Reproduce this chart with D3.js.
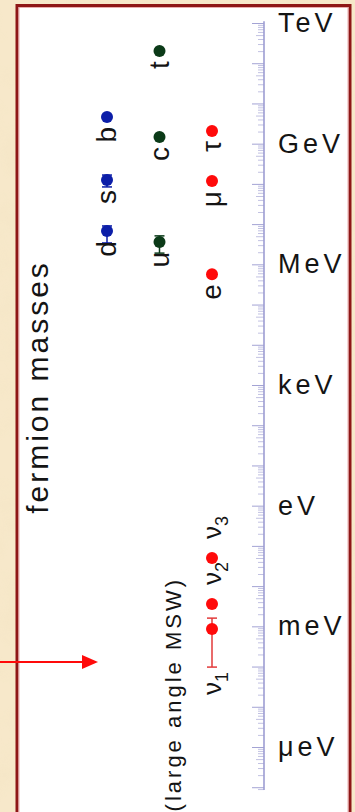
<!DOCTYPE html>
<html>
<head>
<meta charset="utf-8">
<script src="https://cdn.jsdelivr.net/npm/d3@7"></script>
<style>
  html, body { margin: 0; padding: 0; background: #f6e5c5; }
  svg { display: block; }
  text { font-family: 'Liberation Sans', Arial, sans-serif; fill: #141414; }
</style>
</head>
<body>
<svg id="chart" width="355" height="812"></svg>
<script>
// fermion masses in eV
const names = ['d', 's', 'b', 'u', 'c', 't', 'e', 'μ', 'τ', 'ν', 'ν', 'ν']
const subscripts = ['', '', '', '', '', '', '', '', '', '1', '2', '3']
const families = ['down', 'down', 'down', 'up', 'up', 'up', 'lepton', 'lepton', 'lepton', 'lepton', 'lepton', 'lepton']
const masses = [6.7e6, 1.25e8, 4.6e9, 3.6e6, 1.47e9, 2.0e11, 5.7e5, 1.18e8, 2.07e9, 8.6e-4, 3.6e-3, 0.05]
const errLow = [3.4e6, 8.4e7, null, 1.9e6, null, null, null, null, null, 9.7e-5, null, null]
const errHigh = [9.0e6, 1.66e8, null, 5.1e6, null, null, null, null, null, 1.6e-3, null, null]

const unitLabels = ['TeV', 'GeV', 'MeV', 'keV', 'eV', 'meV', 'μeV']
const unitValues = [1e12, 1e9, 1e6, 1e3, 1, 1e-3, 1e-6]

const familyColors = { down: '#0c1ea8', up: '#0b3a18', lepton: '#ff0a0a' }

const width = 355
const height = 812
const axisX = 264
const axisMin = 8.5e-8
const axisMax = 1.1e12

const svg = d3.select('#chart')

// parchment background
const defs = svg.append('defs')
const paper = defs.append('filter').attr('id', 'paper')
  .attr('x', 0).attr('y', 0).attr('width', '100%').attr('height', '100%')
paper.append('feTurbulence')
  .attr('type', 'fractalNoise')
  .attr('baseFrequency', 0.025)
  .attr('numOctaves', 3)
  .attr('seed', 4)
paper.append('feColorMatrix')
  .attr('type', 'matrix')
  .attr('values', '0 0 0 0 0.86  0 0 0 0 0.74  0 0 0 0 0.5  0 0 0 1.1 -0.45')

svg.append('rect')
  .attr('width', width)
  .attr('height', height)
  .attr('fill', '#f7e8ca')
svg.append('rect')
  .attr('width', width)
  .attr('height', height)
  .attr('filter', 'url(#paper)')
  .attr('opacity', 0.45)

// white panel
svg.append('rect')
  .attr('x', 17)
  .attr('y', 5.5)
  .attr('width', 333)
  .attr('height', height + 20)
  .attr('fill', '#fff')
  .attr('stroke', '#8e1616')
  .attr('stroke-width', 3)
svg.append('rect')
  .attr('x', 19)
  .attr('y', 7.5)
  .attr('width', 329)
  .attr('height', height + 20)
  .attr('fill', 'none')
  .attr('stroke', '#e59a9a')
  .attr('stroke-width', 0.8)

const y = d3.scaleLog().domain([1e-6, 1e12]).range([747, 23])
const x = d3.scalePoint().domain(['down', 'up', 'lepton']).range([107, 212])

// axis: decades long, 2..9 short
const tickValues = []
for (let k = -8; k <= 12; k++) {
  for (let m = 1; m < 10; m++) {
    const v = m * Math.pow(10, k)
    if (v >= axisMin && v <= axisMax) tickValues.push(v)
  }
}
const mantissa = (v) => Math.round(v / Math.pow(10, Math.floor(Math.log10(v) + 1e-9)))

const axis = svg.append('g')
  .attr('transform', `translate(${axisX},0)`)
  .call(d3.axisLeft(y).tickValues(tickValues).tickFormat('').tickSizeOuter(0))
axis.select('.domain').remove()
axis.selectAll('.tick line')
  .attr('stroke', (d) => (mantissa(d) === 1 ? '#a3a3d4' : '#c2c2e2'))
  .attr('stroke-width', 1)
  .attr('x2', (d) => (mantissa(d) === 1 ? -12 : mantissa(d) === 5 ? -8 : -6))
svg.append('line')
  .attr('x1', axisX)
  .attr('x2', axisX)
  .attr('y1', y(axisMax))
  .attr('y2', y(axisMin))
  .attr('stroke', '#9d9dd2')
  .attr('stroke-width', 1.6)

svg.append('g')
  .selectAll('text')
  .data(unitLabels)
  .join('text')
  .attr('x', 278)
  .attr('y', (d, i) => y(unitValues[i]) + 9)
  .attr('font-size', 27)
  .attr('letter-spacing', 4)
  .text((d) => d)

// error bars
const bars = svg.append('g')
masses.forEach((m, i) => {
  if (errLow[i] == null) return
  const cx = x(families[i])
  const col = families[i] === 'lepton' ? '#e23a3a' : familyColors[families[i]]
  bars.append('line')
    .attr('x1', cx).attr('x2', cx)
    .attr('y1', y(errHigh[i])).attr('y2', y(errLow[i]))
    .attr('stroke', col).attr('stroke-width', 1.5)
  ;[errLow[i], errHigh[i]].forEach((v) => {
    bars.append('line')
      .attr('x1', cx - 5).attr('x2', cx + 5)
      .attr('y1', y(v)).attr('y2', y(v))
      .attr('stroke', col).attr('stroke-width', 1.5)
  })
})

// points
svg.append('g')
  .selectAll('circle')
  .data(masses)
  .join('circle')
  .attr('cx', (d, i) => x(families[i]))
  .attr('cy', (d) => y(d))
  .attr('r', 6)
  .attr('fill', (d, i) => familyColors[families[i]])

// quark / lepton labels, rotated
const labels = svg.append('g')
names.forEach((n, i) => {
  const cx = x(families[i])
  if (subscripts[i] === '') {
    labels.append('text')
      .attr('transform', `translate(${cx + 9},${y(masses[i]) + 10}) rotate(-90)`)
      .attr('text-anchor', 'end')
      .attr('font-size', 28)
      .text(n)
    return
  }
  // neutrinos: nu1 below its error bar, the others above the dot
  const below = subscripts[i] === '1'
  const ay = below ? y(errLow[i]) + 5 : y(masses[i]) - 19
  const t = labels.append('text')
    .attr('transform', `translate(${cx + 9},${ay}) rotate(-90)`)
    .attr('text-anchor', below ? 'end' : 'start')
    .attr('font-size', 26)
  t.append('tspan').text(n)
  t.append('tspan').attr('dy', 7).attr('font-size', 18).text(subscripts[i])
})

svg.append('text')
  .attr('transform', 'translate(48,387) rotate(-90)')
  .attr('text-anchor', 'middle')
  .attr('font-size', 30)
  .attr('letter-spacing', 3)
  .text('fermion masses')

svg.append('text')
  .attr('transform', 'translate(181,577) rotate(-90)')
  .attr('text-anchor', 'end')
  .attr('font-size', 22)
  .attr('letter-spacing', 3)
  .text('(large angle MSW)')

// red pointer arrow
svg.append('line')
  .attr('x1', 0).attr('x2', 86)
  .attr('y1', 662).attr('y2', 662)
  .attr('stroke', '#ff0a0a')
  .attr('stroke-width', 2)
svg.append('path')
  .attr('d', 'M82,655 L98,662 L82,669 Z')
  .attr('fill', '#ff0a0a')
</script>
</body>
</html>
